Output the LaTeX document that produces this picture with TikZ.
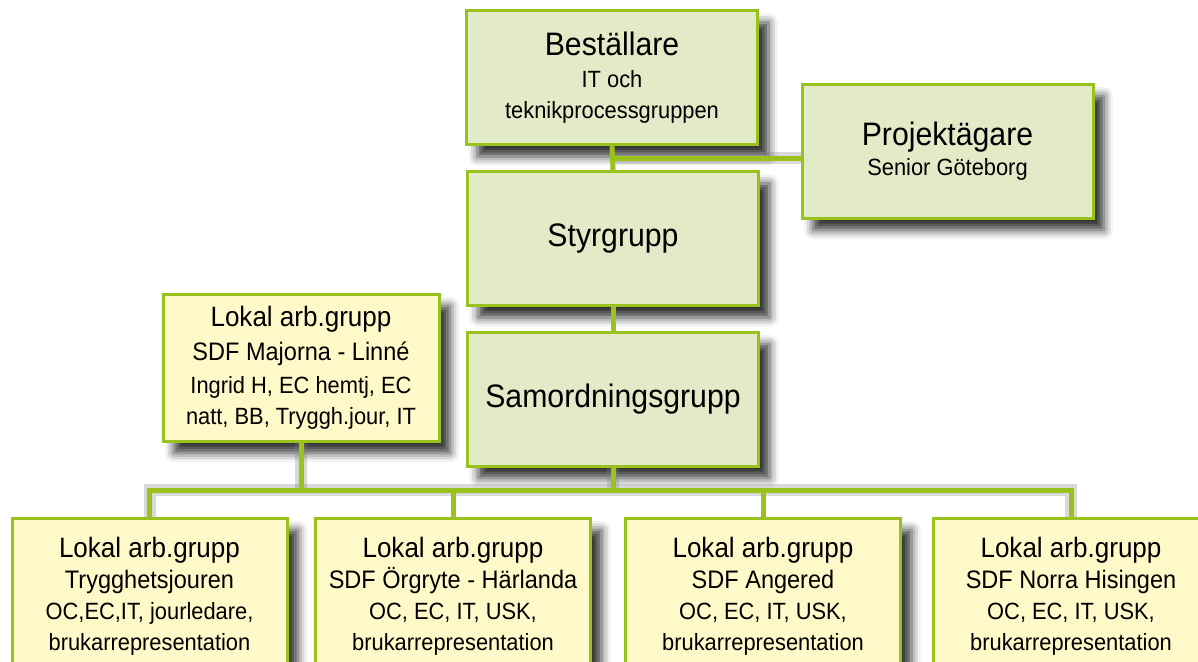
\documentclass[tikz,border=0pt]{standalone}
\usepackage{fontspec}
\setmainfont{Liberation Sans}[FakeStretch=0.93]
\usetikzlibrary{positioning,calc,shadows.blur}
\definecolor{oLine}{HTML}{99C21C}
\definecolor{oGreen}{HTML}{E3EAC7}
\definecolor{oYellow}{HTML}{FFF8C9}
\newcommand{\bigtxt}[1]{{\fontsize{32.5}{34}\selectfont #1}}
\newcommand{\midtxt}[1]{{\fontsize{28}{31}\selectfont #1}}
\newcommand{\subtxt}[1]{{\fontsize{25.3}{31}\selectfont #1}}
\tikzset{
  orgbox/.style={draw=oLine, line width=3pt, align=center, inner sep=0pt,
    font=\fontsize{23.5}{31}\selectfont,
    blur shadow={shadow xshift=11pt, shadow yshift=-12pt, shadow blur radius=9pt, shadow opacity=80}},
  topbox/.style={orgbox, fill=oGreen, minimum width=291pt, minimum height=134pt},
  lokbox/.style={orgbox, fill=oYellow, minimum width=275pt, minimum height=156pt},
  conn/.style={draw=oLine, line width=5pt, line join=miter},
  connshade/.style={draw=black!50, line width=12pt, opacity=.3, line join=miter},
}

\begin{document}
\begin{tikzpicture}[x=1pt, y=-1pt]
  \useasboundingbox (0,0) rectangle (1198,661);
  \clip (0,0) rectangle (1198,661);
  % boxes
  \node[topbox] (bestl) at (612,77.5) {\bigtxt{Beställare}\\[1pt] IT och\\ teknikprocessgruppen};
  \node[topbox] (proj) at (947.5,151) {\bigtxt{Projektägare}\\[-1pt] Senior Göteborg};
  \node[topbox] (styr) at (613,238.5) {\bigtxt{Styrgrupp}};
  \node[topbox] (samord) at (613,399) {\bigtxt{Samordningsgrupp}};
  \node[lokbox, minimum width=276pt, minimum height=147pt] (lokmaj) at (301,367.5)
    {\midtxt{Lokal arb.grupp}\\[3pt] \subtxt{SDF Majorna - Linné}\\[2pt] Ingrid H, EC hemtj, EC\\ natt, BB, Tryggh.jour, IT};
  \node[lokbox] (lok1) at (149.5,596)
    {\midtxt{Lokal arb.grupp}\\ \subtxt{Trygghetsjouren}\\ OC,EC,IT, jourledare,\\ brukarrepresentation};
  \node[lokbox] (lok2) at (453,596)
    {\midtxt{Lokal arb.grupp}\\ \subtxt{SDF Örgryte - Härlanda}\\ OC, EC, IT, USK,\\ brukarrepresentation};
  \node[lokbox] (lok3) at (763,596)
    {\midtxt{Lokal arb.grupp}\\ \subtxt{SDF Angered}\\ OC, EC, IT, USK,\\ brukarrepresentation};
  \node[lokbox] (lok4) at (1071,596)
    {\midtxt{Lokal arb.grupp}\\ \subtxt{SDF Norra Hisingen}\\ OC, EC, IT, USK,\\ brukarrepresentation};
  % tap points
  \coordinate (tap) at ($(bestl.south)!0.5!(styr.north)$);
  \coordinate (bus) at (0,490);
  % connector shadows
  \begin{scope}[shift={(9,11)}]
    \draw[connshade] (tap) -- (tap -| proj.west);
    \draw[connshade] (samord.south) -- (samord.south |- bus);
    \draw[connshade] (lokmaj.south) -- (lokmaj.south |- bus);
    \draw[connshade] (lok1.north) |- (bus -| lok4.north) -- (lok4.north);
  \end{scope}
  % connectors
  \draw[conn] (bestl.south) -- (styr.north);
  \draw[conn] (tap) -- (tap -| proj.west);
  \draw[conn] (styr.south) -- (samord.north);
  \draw[conn] (samord.south) -- (samord.south |- bus);
  \draw[conn] (lokmaj.south) -- (lokmaj.south |- bus);
  \draw[conn] (lok1.north) |- (bus -| lok4.north) -- (lok4.north);
  \foreach \n in {lok2,lok3}
    \draw[conn] (\n.north) -- (\n.north |- bus);
\end{tikzpicture}
\end{document}
